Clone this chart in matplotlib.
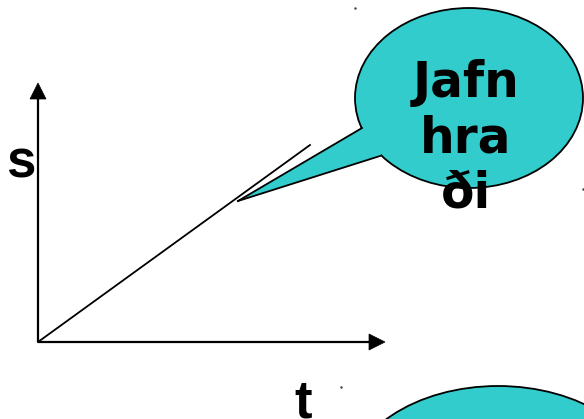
import matplotlib
matplotlib.use("Agg")
import matplotlib.pyplot as plt
from matplotlib.patches import Ellipse, Polygon

W, H = 584, 419

# --- data (pixel space of the slide) ---
origin = (38, 342)
y_axis_top = 83
x_axis_end = 385
motion_line_x = [38, 310]
motion_line_y = [342, 145]

bubble_center = (469, 98)
bubble_size = (228, 180)
tail_base = [(362, 128), (380, 156)]
tail_tip = (238, 201)
bubble_lines = ["Jafn", "hra", "ði"]
bubble_baselines = [97, 152, 207]
bubble_text_x = 466

bubble2_center = (498, 486)
bubble2_size = (300, 200)

label_s = ("s", 21, 177)
label_t = ("t", 303, 417)

dots_x = [355, 583, 341]
dots_y = [8, 189, 387]

teal = "#33CCCC"

fig = plt.figure(figsize=(W / 100, H / 100), dpi=100)
ax = fig.add_axes([0, 0, 1, 1])
ax.set_xlim(0, W)
ax.set_ylim(H, 0)
ax.axis("off")

# axes with arrowheads
ax.plot([origin[0], origin[0]], [origin[1], y_axis_top + 14], color="black", lw=1.6, solid_capstyle="butt")
ax.plot([origin[0], x_axis_end - 14], [origin[1], origin[1]], color="black", lw=1.6, solid_capstyle="butt")
ax.add_patch(Polygon([(origin[0], y_axis_top), (origin[0] - 8, y_axis_top + 16), (origin[0] + 8, y_axis_top + 16)],
                     closed=True, facecolor="black", edgecolor="black", lw=0.5))
ax.add_patch(Polygon([(x_axis_end, origin[1]), (x_axis_end - 16, origin[1] - 8), (x_axis_end - 16, origin[1] + 8)],
                     closed=True, facecolor="black", edgecolor="black", lw=0.5))

# motion line
ax.plot(motion_line_x, motion_line_y, color="black", lw=1.3)

# speech bubble
ax.add_patch(Ellipse(bubble_center, bubble_size[0], bubble_size[1], facecolor=teal, edgecolor="black", lw=1.3, zorder=3))
inner = (bubble_center[0] - 70, bubble_center[1] + 30)
ax.add_patch(Polygon([tail_base[0], tail_tip, tail_base[1], inner], closed=True,
                     facecolor=teal, edgecolor="none", zorder=4))
for bx, by in tail_base:
    ax.plot([bx, tail_tip[0]], [by, tail_tip[1]], color="black", lw=1.3, zorder=5)

for txt, yb in zip(bubble_lines, bubble_baselines):
    ax.text(bubble_text_x, yb, txt, fontsize=35, fontweight="bold", family="DejaVu Sans",
            ha="center", va="baseline", color="black", zorder=6)

# second bubble (partially visible)
ax.add_patch(Ellipse(bubble2_center, bubble2_size[0], bubble2_size[1], facecolor=teal, edgecolor="black", lw=1.3, zorder=3))

# axis labels
for txt, x, y in [label_s, label_t]:
    ax.text(x, y, txt, fontsize=38, fontweight="bold", family="Liberation Sans",
            ha="center", va="baseline", color="black")

ax.scatter(dots_x, dots_y, s=0.6, color="#444444", zorder=7)

fig.savefig("out.png", dpi=100)
